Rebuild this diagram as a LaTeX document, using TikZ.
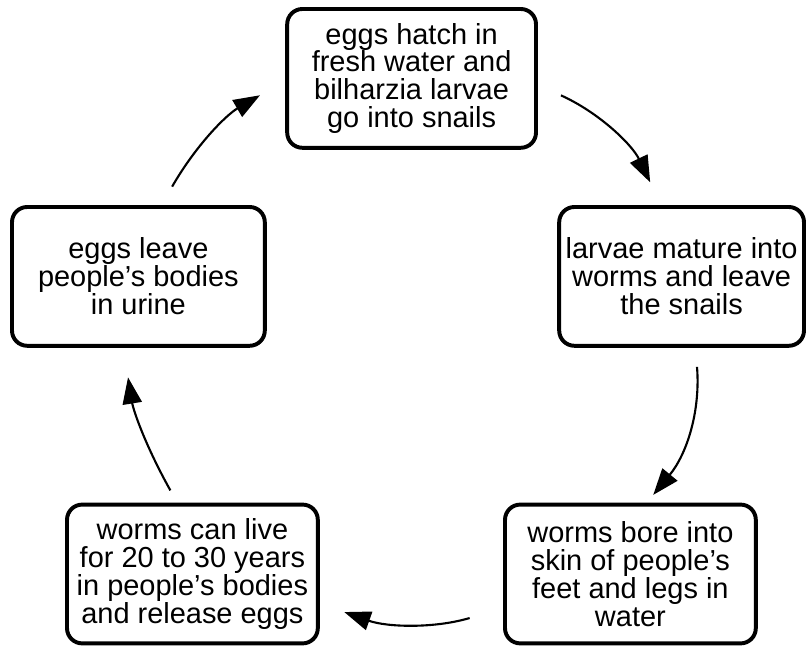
\documentclass[tikz,border=0pt]{standalone}
\usepackage{fontspec}
\setmainfont{Liberation Sans}
\usetikzlibrary{arrows.meta}

\begin{document}
\begin{tikzpicture}[
        stage/.style={draw, line width=2.8pt, rounded corners=0.38cm, align=center,
            minimum height=3.47cm, inner sep=1pt, font=\fontsize{20.6}{19.8}\selectfont},
        cyc/.style={line width=1.5pt, -{Triangle[length=0.66cm, width=0.48cm]}}
    ]

    % Frame
    \useasboundingbox (0,0) rectangle (20.175,16.2);

    % Stages of the cycle
    \node[stage, minimum width=6.22cm] (hatch) at (10.29,14.24)
        {eggs hatch in\\fresh water and\\bilharzia larvae\\go into snails};
    \node[stage, minimum width=6.12cm] (mature) at (17.04,9.29)
        {larvae mature into\\worms and leave\\the snails};
    \node[stage, minimum width=6.27cm] (bore) at (15.76,1.85)
        {worms bore into\\skin of people's\\feet and legs in\\water};
    \node[stage, minimum width=6.27cm] (live) at (4.81,1.85)
        {worms can live\\for 20 to 30 years\\in people's bodies\\and release eggs};
    \node[stage, minimum width=6.32cm] (leave) at (3.46,9.29)
        {eggs leave\\people's bodies\\in urine};

    % Arrows round the cycle
    \draw[cyc, shorten <=0.63cm, shorten >=0.63cm] (hatch.-3) to[bend left=20] (mature.106.4);
    \draw[cyc, shorten <=0.48cm, shorten >=0.25cm] (mature.-79) to[bend left=22] (bore.77.3);
    \draw[cyc, shorten <=0.87cm, shorten >=0.65cm] (bore.-165) to[bend left=18] (live.-13.3);
    \draw[cyc, shorten <=0.35cm, shorten >=0.75cm] (live.102.7) to[bend left=10] (leave.-102.6);
    \draw[cyc, shorten <=0.53cm, shorten >=0.73cm] (leave.72.4) to[bend left=15] (hatch.181.4);

\end{tikzpicture}
\end{document}
